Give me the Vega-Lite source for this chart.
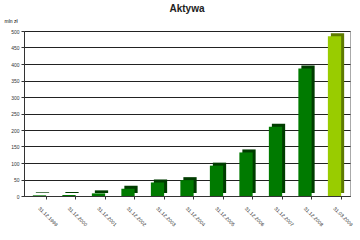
{
  "$schema": "https://vega.github.io/schema/vega-lite/v6.json",
  "width": 326,
  "height": 165,
  "autosize": "none",
  "padding": {"left": 24, "top": 31, "right": 10, "bottom": 44},
  "background": "white",
  "title": {"text": "Aktywa", "font": "Liberation Sans", "fontSize": 10, "fontWeight": "bold", "color": "#222222", "offset": 4, "anchor": "middle"},
  "data": {"values": [
    {"d": "31.12.1999", "v": 2, "last": "n"},
    {"d": "31.12.2000", "v": 3, "last": "n"},
    {"d": "31.12.2001", "v": 8, "last": "n"},
    {"d": "31.12.2002", "v": 22, "last": "n"},
    {"d": "31.12.2003", "v": 41, "last": "n"},
    {"d": "31.12.2004", "v": 48, "last": "n"},
    {"d": "31.12.2005", "v": 92, "last": "n"},
    {"d": "31.12.2006", "v": 132, "last": "n"},
    {"d": "31.12.2007", "v": 210, "last": "n"},
    {"d": "31.12.2008", "v": 386, "last": "n"},
    {"d": "31.03.2009", "v": 484, "last": "y"}
  ]},
  "config": {
    "view": {"stroke": "#aaaaaa", "strokeWidth": 1},
    "font": "Liberation Sans"
  },
  "encoding": {
    "x": {"field": "d", "type": "ordinal", "sort": null,
      "scale": {"paddingInner": 0.55, "paddingOuter": 0.3},
      "axis": {"title": null, "labelAngle": 45, "labelAlign": "left", "labelBaseline": "middle", "labelFontSize": 5, "labelColor": "#333333", "labelPadding": 8, "tickColor": "#333333", "tickSize": 3, "domainColor": "#333333", "bandPosition": 1}},
    "y": {"field": "v", "type": "quantitative",
      "scale": {"domain": [0, 500]},
      "axis": {"values": [0,50,100,150,200,250,300,350,400,450,500], "title": "mln zł", "titleAngle": 0, "titleAlign": "left", "titleBaseline": "bottom", "titleX": -20, "titleY": -8, "titleFontSize": 5, "titleFontWeight": "normal", "labelFontSize": 5, "labelColor": "#333333", "tickColor": "#333333", "tickSize": 3, "domainColor": "#333333", "gridColor": "#222222", "gridWidth": 1}}
  },
  "layer": [
    {
      "mark": {"type": "bar", "xOffset": 3, "yOffset": -3},
      "encoding": {
        "color": {"field": "last", "type": "nominal", "legend": null,
          "scale": {"domain": ["n", "y"], "range": ["#003d00", "#5e7a00"]}}
      }
    },
    {
      "mark": {"type": "bar"},
      "encoding": {
        "color": {"field": "last", "type": "nominal", "legend": null,
          "scale": {"domain": ["n", "y"], "range": ["#007a00", "#99cc00"]}}
      }
    }
  ],
  "resolve": {"scale": {"color": "independent"}}
}
